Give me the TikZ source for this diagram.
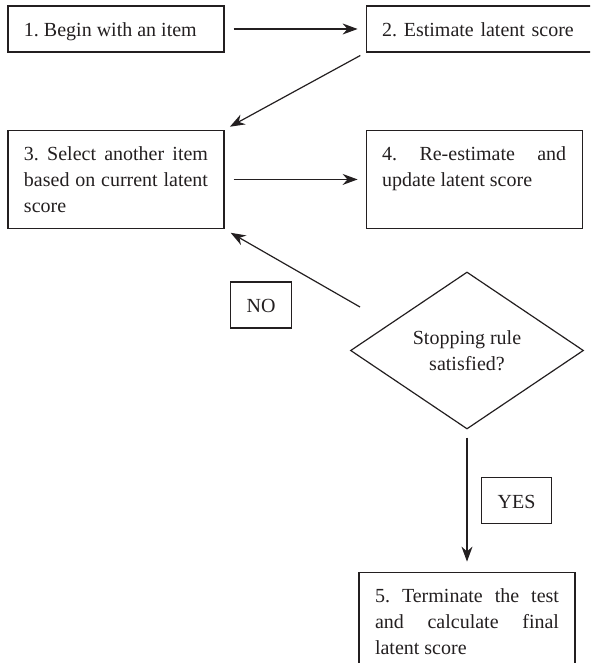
\documentclass[tikz,border=0pt]{standalone}
\usepackage{fontspec}
\setmainfont{Liberation Serif}
\usetikzlibrary{positioning, arrows.meta, shapes.geometric}
\definecolor{ink}{HTML}{231F20}
\hyphenpenalty=10000
\exhyphenpenalty=10000
\frenchspacing

\begin{document}
\begin{tikzpicture}[
  x=0.5pt, y=-0.5pt,
  node distance=38.5pt and 70.5pt,
  box/.style={rectangle, draw=ink, text=ink, line width=0.6pt,
              inner xsep=8pt, inner ysep=7.5pt,
              text height=7.75pt, text depth=0.25pt,
              font=\fontsize{10}{13}\selectfont},
  stepbox/.style={box, text width=92pt, align=justify},
  tallbox/.style={stepbox, text depth=26.5pt},
  tag/.style={box},
  decision/.style={diamond, draw=ink, text=ink, line width=0.6pt,
                   minimum width=116.5pt, minimum height=78.5pt,
                   inner sep=0pt, align=center,
                   font=\fontsize{10}{13}\selectfont},
  arr/.style={-{Stealth[length=7.5pt, width=5.5pt]}, draw=ink, line width=0.6pt}
]
  \useasboundingbox (0,0) rectangle (590,663);
  \clip (0,0) rectangle (590,663);

  \node[stepbox] (begin) at (116,29) {1. Begin with an item};
  \node[box, text width=110pt, align=left, right=of begin] (estimate) {2. Estimate latent score};
  \node[tallbox, below=of begin] (select) {3. Select another item based on current latent score};
  \node[tallbox, right=of select] (update) {4. Re-estimate and update latent score};
  \node[decision] (check) at (467,350.5) {Stopping rule\\satisfied?};
  \node[tallbox, below=71pt of check] (final) {5. Terminate the test and calculate final latent score};

  \node[tag] (no) at (261,305) {NO};
  \node[tag] (yes) at (516.5,500.5) {YES};
  \coordinate (loop) at (360,307);

  \draw[arr, shorten <=4.5pt, shorten >=4pt] (begin) -- (estimate);
  \draw[arr, shorten <=3pt, shorten >=3pt] (estimate.south west) -- (select.north east);
  \draw[arr, shorten <=4.5pt, shorten >=4pt] (select) -- (update);
  \draw[arr, shorten >=3.5pt] (loop) -- (select.south east);
  \draw[arr, shorten <=4pt, shorten >=5pt] (check) -- (final);
\end{tikzpicture}
\end{document}
